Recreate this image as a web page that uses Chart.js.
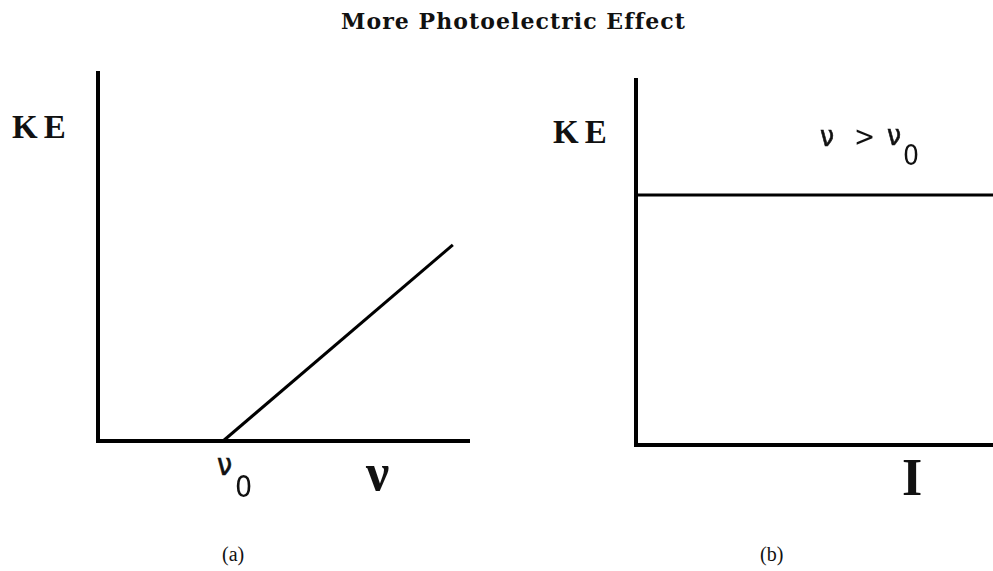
<!DOCTYPE html>
<html>
<head>
<meta charset="utf-8">
<script src="https://cdn.jsdelivr.net/npm/chart.js@4"></script>
<style>
  body { margin: 0; background: #fff; width: 993px; height: 571px; position: relative; overflow: hidden; }
  canvas { position: absolute; }
  .t { position: absolute; line-height: 1; white-space: nowrap; color: #111; }
  .serif { font-family: "Liberation Serif", serif; }
  .bold { font-weight: bold; }
  .sans { font-family: "Liberation Sans Narrow", "DejaVu Sans Condensed", "Liberation Sans", sans-serif; }
  #title { font-family: "DejaVu Serif", serif; font-weight: bold; font-size: 22px; top: 10px; left: 341px; }
</style>
</head>
<body>
<div id="title" class="t">More Photoelectric Effect</div>

<canvas id="chartA" width="382" height="380" style="left:92px; top:67px;"></canvas>
<canvas id="chartB" width="363" height="377" style="left:630px; top:74px;"></canvas>

<!-- panel (a) labels -->
<div class="t serif bold" style="font-size:33px; left:12px; top:111px; letter-spacing:6px;">KE</div>
<div class="t sans" style="font-size:30px; left:217px; top:450px; -webkit-text-stroke:0.6px #111;">ν</div>
<div class="t sans" style="font-size:30px; left:235px; top:472px;">0</div>
<div class="t serif bold" style="font-size:52px; left:366px; top:447px;">ν</div>
<div class="t serif" style="font-size:20px; left:222px; top:544px;">(a)</div>

<!-- panel (b) labels -->
<div class="t serif bold" style="font-size:33px; left:553px; top:116px; letter-spacing:6px;">KE</div>
<div class="t sans" style="font-size:28px; left:820px; top:123px; -webkit-text-stroke:0.6px #111;">ν</div>
<div class="t sans" style="font-size:28px; left:854px; top:123px;">&gt;</div>
<div class="t sans" style="font-size:28px; left:887px; top:122px; -webkit-text-stroke:0.6px #111;">ν</div>
<div class="t sans" style="font-size:28px; left:903px; top:142px;">0</div>
<div class="t serif bold" style="font-size:52px; left:902px; top:452px;">I</div>
<div class="t serif" style="font-size:20px; left:760px; top:544px;">(b)</div>

<script>
// axis frame (L shape), in data units 0..10
const frameX = [0, 0, 10];
const frameY = [10, 0, 0];

// (a) KE vs frequency: zero until threshold, then linear
const freqX = [3.38, 9.59];
const keA = [0, 5.33];

// (b) KE vs intensity: constant
const intensityX = [0, 10];
const keB = [6.85, 6.85];

function pts(xs, ys) {
    return xs.map((x, i) => ({ x: x, y: ys[i] }));
}

function makeChart(id, line, pad) {
    const ctx = document.getElementById(id).getContext("2d");
    return new Chart(ctx, {
        type: "scatter",
        data: {
            datasets: [
                {
                    data: pts(frameX, frameY),
                    showLine: true,
                    borderColor: "#000",
                    borderWidth: 4,
                    pointRadius: 0,
                    borderJoinStyle: "miter",
                    borderCapStyle: "square",
                    clip: false
                },
                {
                    data: line,
                    showLine: true,
                    borderColor: "#000",
                    borderWidth: 3,
                    pointRadius: 0,
                    clip: false
                }
            ]
        },
        options: {
            responsive: false,
            animation: false,
            layout: { padding: pad },
            plugins: { legend: { display: false }, tooltip: { enabled: false } },
            scales: {
                x: { type: "linear", min: 0, max: 10, display: false },
                y: { type: "linear", min: 0, max: 10, display: false }
            }
        }
    });
}

makeChart("chartA", pts(freqX, keA), 6);
makeChart("chartB", pts(intensityX, keB), { left: 6, top: 6, bottom: 6, right: 0 });

// stretch title to the width in the reference (340..683)
const title = document.getElementById("title");
const w = title.getBoundingClientRect().width;
const n = title.textContent.length;
title.style.letterSpacing = ((343 - w) / (n - 1)).toFixed(2) + "px";
</script>
</body>
</html>
